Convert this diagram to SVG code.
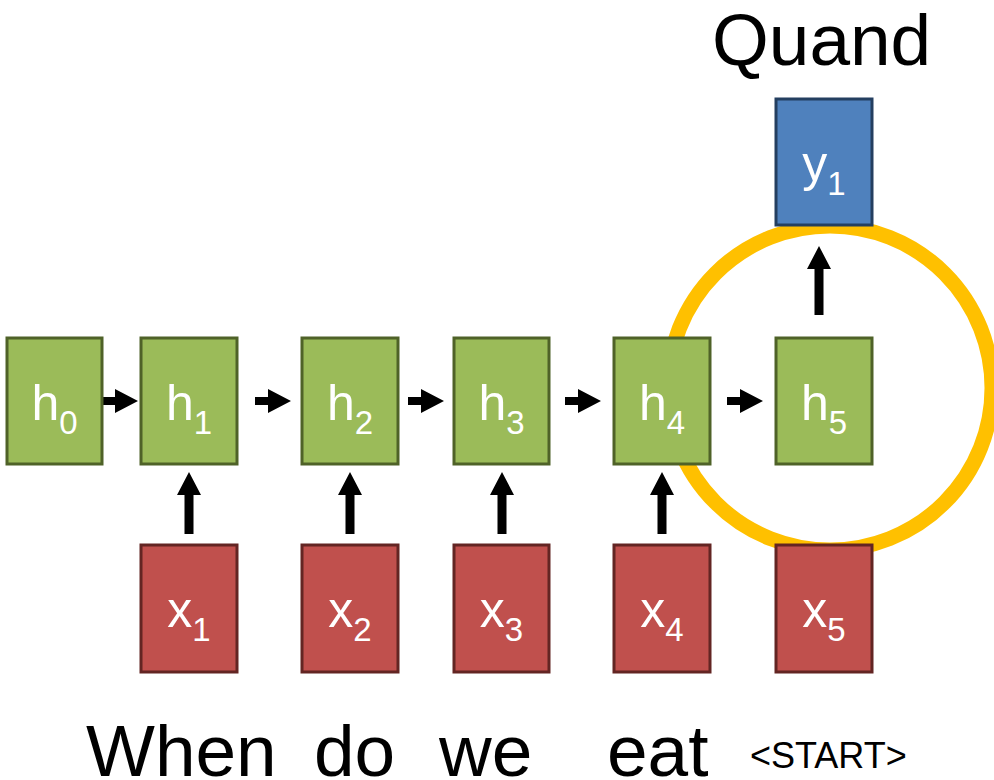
<svg xmlns="http://www.w3.org/2000/svg" width="994" height="780" viewBox="0 0 994 780">
<style>
.h rect{fill:#9BBB59;stroke:#4F6228;stroke-width:3}
.x rect{fill:#C0504D;stroke:#632523;stroke-width:3}
.y rect{fill:#4F81BD;stroke:#243F60;stroke-width:3}
.lbl{font-family:"Liberation Sans",Arial,sans-serif;font-size:50px;fill:#fff;text-anchor:middle}
.sub{font-size:33px}
.word{font-family:"Liberation Sans",Arial,sans-serif;font-size:73px;fill:#000}
</style>
<defs>
<path id="ar" d="M0,-4 L13,-4 L13,-12 L36,0 L13,12 L13,4 L0,4 Z" fill="#000"/>
<path id="up" d="M-4.5,0 L-4.5,-39 L-12,-39 L0,-62 L12,-39 L4.5,-39 L4.5,0 Z" fill="#000"/>
</defs>
<rect width="994" height="780" fill="#fff"/>
<circle id="focus" cx="830" cy="388" r="162" fill="none" stroke="#FFC000" stroke-width="15"/>
<g id="connectors">
<use href="#ar" transform="translate(102,401)"/>
<use href="#ar" transform="translate(255,401)"/>
<use href="#ar" transform="translate(408,401)"/>
<use href="#ar" transform="translate(565,401)"/>
<use href="#ar" transform="translate(727,401)"/>
<use href="#up" transform="translate(189,534)"/>
<use href="#up" transform="translate(350,534)"/>
<use href="#up" transform="translate(502,534)"/>
<use href="#up" transform="translate(662,534)"/>
<path d="M814.5,315 L814.5,269 L807,269 L819,246 L831,269 L823.5,269 L823.5,315 Z" fill="#000"/>
</g>
<g id="h0" class="h"><rect x="7" y="338" width="95" height="126"/><text class="lbl" x="54.5" y="420">h<tspan class="sub" dy="14">0</tspan></text></g>
<g id="h1" class="h"><rect x="141" y="338" width="96" height="126"/><text class="lbl" x="189" y="420">h<tspan class="sub" dy="14">1</tspan></text></g>
<g id="h2" class="h"><rect x="302" y="338" width="96" height="126"/><text class="lbl" x="350" y="420">h<tspan class="sub" dy="14">2</tspan></text></g>
<g id="h3" class="h"><rect x="454" y="338" width="95" height="126"/><text class="lbl" x="501.5" y="420">h<tspan class="sub" dy="14">3</tspan></text></g>
<g id="h4" class="h"><rect x="614" y="338" width="96" height="126"/><text class="lbl" x="662" y="420">h<tspan class="sub" dy="14">4</tspan></text></g>
<g id="h5" class="h"><rect x="776" y="338" width="96" height="126"/><text class="lbl" x="824" y="420">h<tspan class="sub" dy="14">5</tspan></text></g>
<g id="x1" class="x"><rect x="141" y="545" width="96" height="127"/><text class="lbl" x="189" y="627">x<tspan class="sub" dy="14">1</tspan></text></g>
<g id="x2" class="x"><rect x="302" y="545" width="96" height="127"/><text class="lbl" x="350" y="627">x<tspan class="sub" dy="14">2</tspan></text></g>
<g id="x3" class="x"><rect x="454" y="545" width="95" height="127"/><text class="lbl" x="501.5" y="627">x<tspan class="sub" dy="14">3</tspan></text></g>
<g id="x4" class="x"><rect x="614" y="545" width="96" height="127"/><text class="lbl" x="662" y="627">x<tspan class="sub" dy="14">4</tspan></text></g>
<g id="x5" class="x"><rect x="776" y="545" width="96" height="127"/><text class="lbl" x="824" y="627">x<tspan class="sub" dy="14">5</tspan></text></g>
<g id="y1" class="y"><rect x="776" y="99" width="96" height="126"/><text class="lbl" x="824" y="181">y<tspan class="sub" dy="14">1</tspan></text></g>
<g id="words">
<text class="word" x="712" y="65">Quand</text>
<text class="word" x="86" y="776">When</text>
<text class="word" x="314" y="776">do</text>
<text class="word" x="439" y="776">we</text>
<text class="word" x="607" y="776">eat</text>
<text class="word" x="750" y="768" style="font-size:36px">&lt;START&gt;</text>
</g>
</svg>
